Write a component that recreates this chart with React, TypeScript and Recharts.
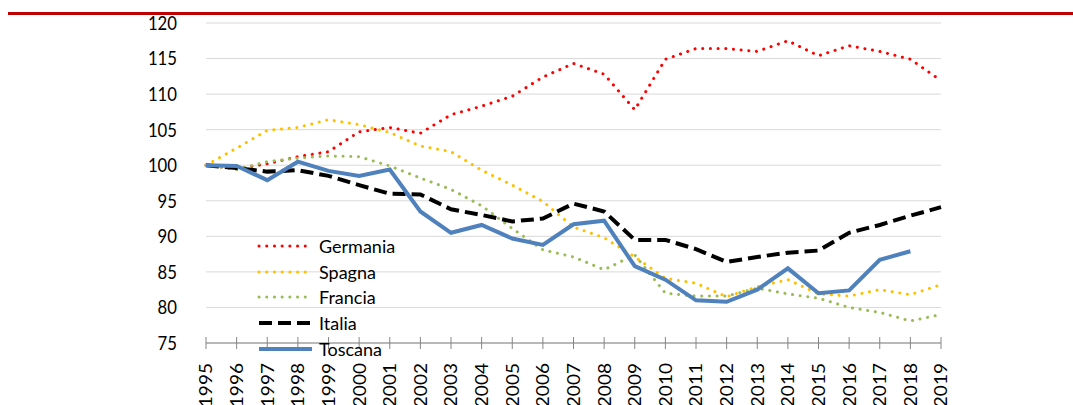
import { CartesianGrid, Line, LineChart, XAxis, YAxis } from "recharts";

const years = [
  "1995", "1996", "1997", "1998", "1999", "2000", "2001", "2002", "2003",
  "2004", "2005", "2006", "2007", "2008", "2009", "2010", "2011", "2012",
  "2013", "2014", "2015", "2016", "2017", "2018", "2019",
];

const germania = [
  100, 99.5, 100.2, 101.2, 101.9, 104.7, 105.3, 104.5, 107.1, 108.3, 109.7,
  112.4, 114.3, 112.8, 107.8, 114.9, 116.4, 116.4, 116.0, 117.5, 115.4, 116.8,
  116.0, 114.9, 111.9,
];
const spagna = [
  100, 102.4, 104.9, 105.3, 106.4, 105.7, 104.6, 102.7, 101.9, 99.3, 97.2,
  94.9, 91.3, 89.8, 87.1, 84.1, 83.4, 81.5, 82.9, 83.9, 81.9, 81.6, 82.5, 81.8,
  83.2,
];
const francia = [
  100, 99.4, 100.5, 101.0, 101.3, 101.2, 99.9, 98.2, 96.6, 94.3, 91.1, 88.1,
  87.1, 85.3, 87.4, 82.0, 81.6, 81.6, 82.7, 81.9, 81.3, 80.0, 79.3, 78.1, 79.0,
];
const italia = [
  100, 99.6, 99.1, 99.3, 98.5, 97.2, 96.0, 95.9, 93.8, 93.0, 92.1, 92.5, 94.6,
  93.5, 89.5, 89.5, 88.2, 86.4, 87.1, 87.7, 88.0, 90.5, 91.6, 92.9, 94.1,
];
const toscana: (number | null)[] = [
  100, 99.9, 97.9, 100.5, 99.2, 98.5, 99.4, 93.5, 90.5, 91.6, 89.7, 88.8, 91.7,
  92.2, 85.8, 83.9, 81.0, 80.8, 82.5, 85.5, 82.0, 82.4, 86.7, 87.9, null,
];

const yTicks = [75, 80, 85, 90, 95, 100, 105, 110, 115, 120];

const series = [
  { name: "Germania", values: germania, color: "#ff0000", width: 3, dash: "0.1 7.6", cap: "round" },
  { name: "Spagna", values: spagna, color: "#ffc000", width: 3, dash: "0.1 7.6", cap: "round" },
  { name: "Francia", values: francia, color: "#9bbb59", width: 3, dash: "0.1 7.6", cap: "round" },
  { name: "Italia", values: italia, color: "#000000", width: 4, dash: "13 6", cap: "butt" },
  { name: "Toscana", values: toscana, color: "#4f81bd", width: 4, dash: undefined, cap: "butt" },
];

const data = years.map((year, i) => {
  const row: Record<string, string | number | null> = { year };
  series.forEach((s) => {
    row[s.name] = s.values[i];
  });
  return row;
});

const FONT = "Lato, 'Open Sans', sans-serif";

function YTick({ x, y, payload }: any) {
  return (
    <text
      transform={`translate(${x},${y}) scale(0.88,1)`}
      textAnchor="end"
      dy="0.36em"
      fontSize={19}
      fontFamily={FONT}
      fill="#000"
    >
      {payload.value}
    </text>
  );
}

// years are written bottom-to-top and run off the bottom edge, as in the source
function XTick({ x, y, payload }: any) {
  return (
    <g>
      <line x1={x} x2={x} y1={y - 6} y2={y + 6} stroke="#868686" strokeWidth={1} />
      <text
        transform={`translate(${x},${y + 20}) rotate(-90) scale(1.06,1)`}
        textAnchor="end"
        dy="0.36em"
        fontSize={18}
        fontFamily={FONT}
        fill="#000"
      >
        {payload.value}
      </text>
    </g>
  );
}

function LegendBox() {
  return (
    <div
      style={{
        position: "absolute",
        left: 255,
        top: 233,
        fontFamily: FONT,
        fontSize: 18,
        color: "#000",
      }}
    >
      {series.map((s) => (
        <div key={s.name} style={{ display: "flex", alignItems: "center", height: 25.7 }}>
          <svg width={64} height={10} style={{ display: "block" }}>
            <line
              x1={4}
              x2={57}
              y1={5}
              y2={5}
              stroke={s.color}
              strokeWidth={s.width}
              strokeDasharray={s.dash}
              strokeLinecap={s.cap as any}
            />
          </svg>
          <span style={{ lineHeight: 1 }}>{s.name}</span>
        </div>
      ))}
    </div>
  );
}

export default function App() {
  return (
    <div style={{ position: "relative", width: 1073, height: 405, background: "#fff", overflow: "hidden" }}>
      <style>{`body{margin:0}`}</style>
      <div
        style={{
          position: "absolute",
          left: 8,
          right: 0,
          top: 12,
          height: 3,
          background: "#c00000",
        }}
      />
      <LineChart
        width={1073}
        height={405}
        data={data}
        margin={{ top: 23, right: 132, left: 0, bottom: 0 }}
      >
        <CartesianGrid vertical={false} stroke="#d9d9d9" />
        <XAxis
          dataKey="year"
          height={62}
          interval={0}
          tickLine={false}
          tickSize={0}
          tickMargin={0}
          axisLine={{ stroke: "#868686" }}
          tick={<XTick />}
        />
        <YAxis
          width={206}
          domain={[75, 120]}
          ticks={yTicks}
          interval={0}
          axisLine={false}
          tickLine={false}
          tickSize={0}
          tickMargin={29}
          tick={<YTick />}
        />
        {series.map((s) => (
          <Line
            key={s.name}
            dataKey={s.name}
            type="linear"
            stroke={s.color}
            strokeWidth={s.width}
            strokeDasharray={s.dash}
            strokeLinecap={s.cap as any}
            dot={false}
            activeDot={false}
            isAnimationActive={false}
          />
        ))}
      </LineChart>
      <LegendBox />
    </div>
  );
}
